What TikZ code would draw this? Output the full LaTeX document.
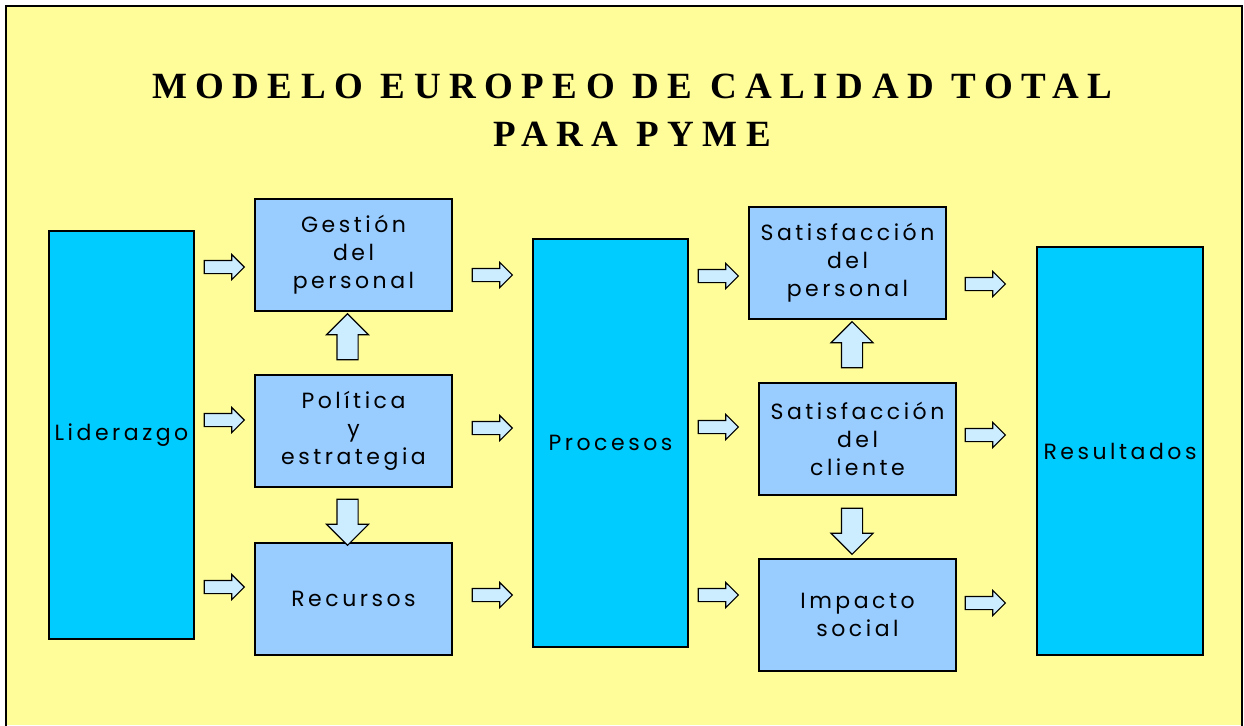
\documentclass[tikz,border=0pt]{standalone}
\usepackage{fontspec}
\setmainfont{Liberation Serif}
\newfontfamily\cajafont[LetterSpace=16]{Poppins}
\newfontfamily\titfont[LetterSpace=23]{Liberation Serif}
\usetikzlibrary{shapes.arrows}
\definecolor{fondo}{HTML}{FFFD99}
\definecolor{celeste}{HTML}{00CCFF}
\definecolor{azul}{HTML}{99CCFF}
\definecolor{flecha}{HTML}{CCECFF}
\begin{document}
\begin{tikzpicture}[x=1pt,y=-1pt]
\tikzstyle{col}= [rectangle,draw,line width=1.2pt,fill=celeste,minimum height=408pt,inner sep=0pt,font=\cajafont\fontsize{22}{28}\selectfont]
\tikzstyle{caja}= [rectangle,draw,line width=1.2pt,fill=azul,minimum width=197pt,minimum height=112pt,inner sep=0pt,align=center,font=\cajafont\fontsize{22}{28}\selectfont]
\tikzstyle{der}= [single arrow,draw,line width=1.1pt,fill=flecha,minimum height=40pt,inner xsep=0pt,inner ysep=6pt,single arrow head extend=6pt]
\tikzstyle{ver}= [single arrow,draw,line width=1.1pt,fill=flecha,minimum height=46pt,inner xsep=0pt,inner ysep=10pt,single arrow head extend=10.5pt]

\useasboundingbox (0,0) rectangle (1244,725);
\fill[fondo] (6,6) rectangle (1242,725);
\draw[line width=2pt] (6,726) -- (6,6) -- (1242,6) -- (1242,726);

\path
	(632, 98) node[anchor=base,font=\titfont\bfseries\fontsize{37}{44}\selectfont] (t1) {MODELO EUROPEO DE CALIDAD TOTAL}
	(632,146) node[anchor=base,font=\titfont\bfseries\fontsize{37}{44}\selectfont] (t2) {PARA PYME}
	(121.5,435) node[col,minimum width=145pt] (lid) {Liderazgo}
	(610.5,443) node[col,minimum width=155pt] (pro) {Procesos}
	(1120,451) node[col,minimum width=166pt] (res) {Resultados}
	(353.5,255) node[caja] (gp) {Gestión\\del\\personal}
	(353.5,431) node[caja] (pe) {Política\\y\\estrategia}
	(353.5,599) node[caja] (rec) {Recursos}
	(847.5,263) node[caja] (sp) {Satisfacción\\del\\personal}
	(857.5,439) node[caja] (sc) {Satisfacción\\del\\cliente}
	(857.5,615) node[caja] (is) {Impacto\\social}
;
% flechas horizontales
\path
	(221,267) node[der] (f1) {}
	(221,420) node[der] (f2) {}
	(221,587) node[der] (f3) {}
	(489,275) node[der] (f4) {}
	(489,428) node[der] (f5) {}
	(489,595) node[der] (f6) {}
	(715,276) node[der] (f7) {}
	(715,427) node[der] (f8) {}
	(715,595) node[der] (f9) {}
	(982,284) node[der] (f10) {}
	(982,435) node[der] (f11) {}
	(982,603) node[der] (f12) {}
;
% flechas verticales
\path
	(347.5,342) node[ver,rotate=90] (v1) {}
	(347.5,517) node[ver,rotate=-90] (v2) {}
	(852,350) node[ver,rotate=90] (v3) {}
	(852,526) node[ver,rotate=-90] (v4) {}
;
\end{tikzpicture}
\end{document}
